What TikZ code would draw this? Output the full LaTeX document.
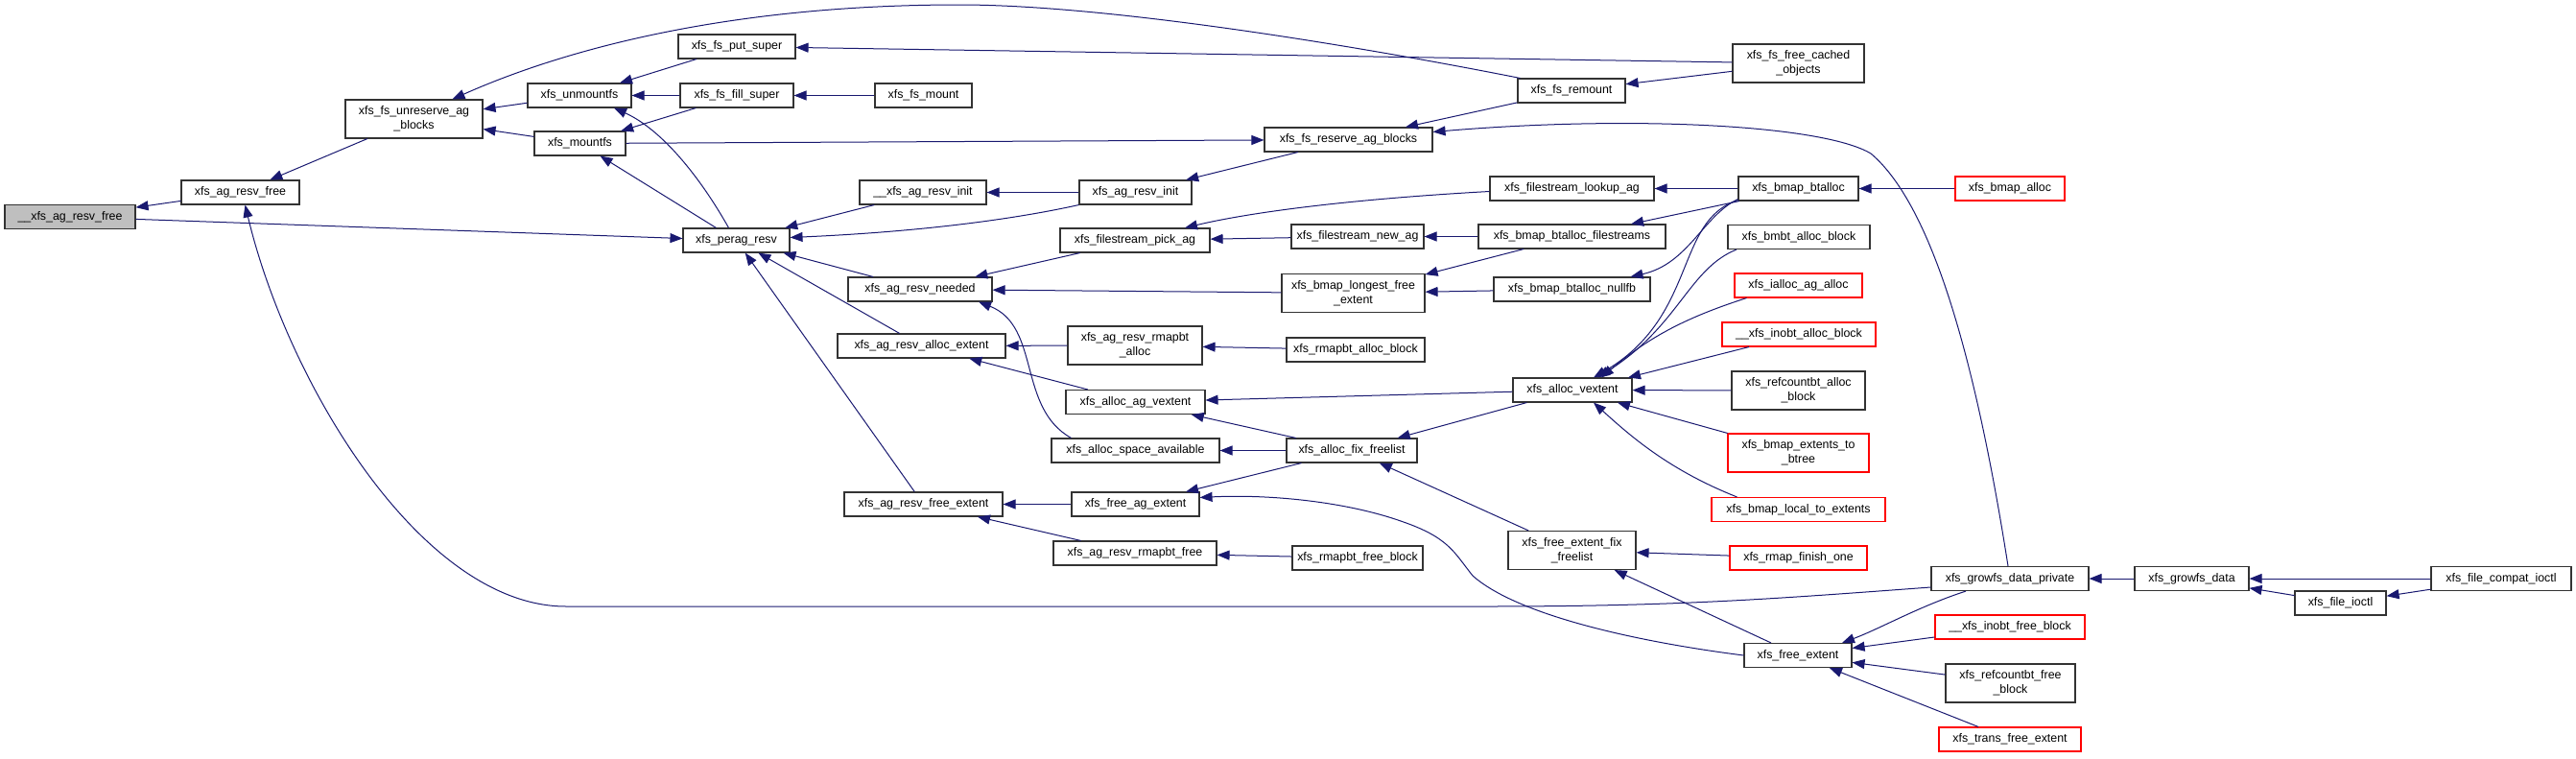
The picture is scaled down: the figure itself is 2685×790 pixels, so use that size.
\documentclass[tikz,border=0pt]{standalone}
\usepackage{fontspec}
\setmainfont{Liberation Sans}
\usetikzlibrary{arrows.meta}
\definecolor{edgeblue}{HTML}{191970}
\definecolor{rootgray}{HTML}{BFBFBF}

\begin{document}
\begin{tikzpicture}[
  x=1pt, y=-1pt,
  box/.style={rectangle, draw=black!80, line width=1.1pt, fill=white,
              minimum height=25pt, inner sep=0pt, align=center,
              font=\fontsize{12.4}{14.7}\selectfont},
  tallbox/.style={box, minimum height=40pt},
  redbox/.style={draw=red},
  arr/.style={-{Triangle[length=13pt,width=10pt]}, edgeblue, line width=1pt},
]
\useasboundingbox (0,0) rectangle (2685,790);
% Root and first callers
\node[box, fill=rootgray, minimum width=136] (root) at (73,226) {\_\_xfs\_ag\_resv\_free};
\node[box, minimum width=123] (agfree) at (250.5,200.5) {xfs\_ag\_resv\_free};
\node[tallbox, minimum width=143] (unres) at (431.5,124) {xfs\_fs\_unreserve\_ag\\\_blocks};
\node[box, minimum width=108] (unmnt) at (604,99.5) {xfs\_unmountfs};
\node[box, minimum width=95] (mnt) at (604.5,149.5) {xfs\_mountfs};
\node[box, minimum width=122] (putsuper) at (768,48.5) {xfs\_fs\_put\_super};
\node[box, minimum width=118] (fillsuper) at (768,99.5) {xfs\_fs\_fill\_super};
\node[box, minimum width=111] (perag) at (767.5,250.5) {xfs\_perag\_resv};
% Column around x=960
\node[box, minimum width=101] (fsmount) at (962.5,99.5) {xfs\_fs\_mount};
\node[box, minimum width=132] (initu) at (962,200.5) {\_\_xfs\_ag\_resv\_init};
\node[box, minimum width=150] (needed) at (959,301.5) {xfs\_ag\_resv\_needed};
\node[box, minimum width=175] (allocext) at (960.5,360.5) {xfs\_ag\_resv\_alloc\_extent};
\node[box, minimum width=165] (resvfree) at (962.5,525.5) {xfs\_ag\_resv\_free\_extent};
% Column around x=1183
\node[box, minimum width=117] (init) at (1183.5,200.5) {xfs\_ag\_resv\_init};
\node[box, minimum width=156] (pick) at (1183,250.5) {xfs\_filestream\_pick\_ag};
\node[tallbox, minimum width=140] (rmapalloc) at (1183,360) {xfs\_ag\_resv\_rmapbt\\\_alloc};
\node[box, minimum width=145] (agvext) at (1183.5,419) {xfs\_alloc\_ag\_vextent};
\node[box, minimum width=175] (spaceav) at (1183.5,469.5) {xfs\_alloc\_space\_available};
\node[box, minimum width=133] (freeag) at (1183.5,525.5) {xfs\_free\_ag\_extent};
\node[box, minimum width=170] (rmapfree) at (1183,576.5) {xfs\_ag\_resv\_rmapbt\_free};
% Column around x=1410
\node[box, minimum width=175] (reserve) at (1405.5,145.5) {xfs\_fs\_reserve\_ag\_blocks};
\node[box, minimum width=138] (newag) at (1415,246.5) {xfs\_filestream\_new\_ag};
\node[tallbox, minimum width=149] (longest) at (1410.5,305.5) {xfs\_bmap\_longest\_free\\\_extent};
\node[box, minimum width=144] (rmapallocblk) at (1413,364.5) {xfs\_rmapbt\_alloc\_block};
\node[box, minimum width=136] (fixfl) at (1409,469.5) {xfs\_alloc\_fix\_freelist};
\node[box, minimum width=136] (rmapfreeblk) at (1415,581.5) {xfs\_rmapbt\_free\_block};
% Column around x=1638
\node[box, minimum width=112] (remount) at (1638,94.5) {xfs\_fs\_remount};
\node[box, minimum width=171] (lookup) at (1638.5,196.5) {xfs\_filestream\_lookup\_ag};
\node[box, minimum width=195] (filestr) at (1638.5,246.5) {xfs\_bmap\_btalloc\_filestreams};
\node[box, minimum width=163] (nullfb) at (1638.5,301.5) {xfs\_bmap\_btalloc\_nullfb};
\node[box, minimum width=124] (vext) at (1639,406.5) {xfs\_alloc\_vextent};
\node[tallbox, minimum width=133] (fffl) at (1638.5,573.5) {xfs\_free\_extent\_fix\\\_freelist};
% Column around x=1875
\node[tallbox, minimum width=137] (cached) at (1874.5,66) {xfs\_fs\_free\_cached\\\_objects};
\node[box, minimum width=125] (btalloc) at (1874.5,196.5) {xfs\_bmap\_btalloc};
\node[box, minimum width=148] (bmbt) at (1875,247) {xfs\_bmbt\_alloc\_block};
\node[box, redbox, minimum width=133] (ialloc) at (1874.5,297.5) {xfs\_ialloc\_ag\_alloc};
\node[box, redbox, minimum width=160] (inobta) at (1875,348.5) {\_\_xfs\_inobt\_alloc\_block};
\node[tallbox, minimum width=139] (refca) at (1874.5,407) {xfs\_refcountbt\_alloc\\\_block};
\node[tallbox, redbox, minimum width=147] (ext2bt) at (1874.5,472) {xfs\_bmap\_extents\_to\\\_btree};
\node[box, redbox, minimum width=181] (local) at (1874.5,531) {xfs\_bmap\_local\_to\_extents};
\node[box, redbox, minimum width=143] (rmapfin) at (1874.5,581.5) {xfs\_rmap\_finish\_one};
\node[box, minimum width=112] (freeext) at (1874,683) {xfs\_free\_extent};
% Column around x=2095 and the right end
\node[box, redbox, minimum width=114] (bmapalloc) at (2095,196.5) {xfs\_bmap\_alloc};
\node[box, minimum width=164] (gdp) at (2095,603) {xfs\_growfs\_data\_private};
\node[box, redbox, minimum width=156] (inobtf) at (2095,653.5) {\_\_xfs\_inobt\_free\_block};
\node[tallbox, minimum width=135] (refcf) at (2095.5,712) {xfs\_refcountbt\_free\\\_block};
\node[box, redbox, minimum width=148] (transfree) at (2095,770.5) {xfs\_trans\_free\_extent};
\node[box, minimum width=119] (growfs) at (2284.5,603) {xfs\_growfs\_data};
\node[box, minimum width=95] (fileioctl) at (2439.5,628.5) {xfs\_file\_ioctl};
\node[box, minimum width=146] (compat) at (2607,603) {xfs\_file\_compat\_ioctl};
% Calls into the left part
\draw[arr] (agfree) -- (root);
\draw[arr] (root) -- (perag);
\draw[arr] (unres) -- (agfree);
\draw[arr] ([yshift=-9]gdp.west) .. controls (1850,624) and (1750,632) .. (1550,632)
  -- (590,632) .. controls (440,632) and (300,400) .. ([xshift=5]agfree.south);
\draw[arr] (unmnt) -- (unres);
\draw[arr] (mnt) -- (unres);
\draw[arr] ([xshift=3]remount.north west) .. controls (1400,45) and (1150,5) .. (1000,5)
  .. controls (750,5) and (580,55) .. ([xshift=40]unres.north);
\draw[arr] (putsuper) -- (unmnt);
\draw[arr] (fillsuper) -- (unmnt);
\draw[arr] (fillsuper) -- (mnt);
\draw[arr] ([xshift=-8]perag.north) .. controls (730,185) and (690,135) .. ([xshift=36]unmnt.south);
\draw[arr] (perag) -- (mnt);
\draw[arr] (cached) -- (putsuper);
\draw[arr] (fsmount) -- (fillsuper);
\draw[arr] (mnt) -- (reserve);
\draw[arr] (remount) -- (reserve);
\draw[arr] (cached) -- (remount);
\draw[arr] (reserve) -- (init);
\draw[arr] ([xshift=-2]gdp.north) .. controls (2060,380) and (2015,215) .. (1950,160)
  .. controls (1900,130) and (1700,120) .. ([yshift=8]reserve.east);
% Calls into xfs_perag_resv
\draw[arr] (initu) -- (perag);
\draw[arr] (init.south west) .. controls (1050,230) and (950,242) .. ([yshift=3]perag.east);
\draw[arr] (init) -- (initu);
\draw[arr] (needed) -- (perag);
\draw[arr] (allocext) -- (perag);
\draw[arr] (resvfree) -- (perag);
% Middle columns
\draw[arr] (pick) -- (needed);
\draw[arr] (longest) -- (needed);
\draw[arr] ([xshift=-67]spaceav.north) .. controls (1060,425) and (1085,340) .. ([xshift=61]needed.south);
\draw[arr] (rmapalloc) -- (allocext);
\draw[arr] (agvext) -- (allocext);
\draw[arr] (rmapallocblk) -- (rmapalloc);
\draw[arr] ([yshift=-3]lookup.west) .. controls (1400,208) and (1300,222) .. ([xshift=52]pick.north);
\draw[arr] (newag) -- (pick);
\draw[arr] (filestr) -- (newag);
\draw[arr] (filestr) -- (longest);
\draw[arr] (nullfb) -- (longest);
% xfs_bmap_btalloc and xfs_alloc_vextent
\draw[arr] (btalloc) -- (lookup);
\draw[arr] (btalloc) -- (filestr);
\draw[arr] ([yshift=2]btalloc.south west) .. controls (1775,225) and (1760,275) .. ([xshift=61]nullfb.north);
\draw[arr] ([yshift=1]btalloc.south west) .. controls (1745,230) and (1770,330) .. ([xshift=22]vext.north);
\draw[arr] ([xshift=-65]bmbt.south) .. controls (1760,280) and (1750,340) .. ([xshift=26]vext.north);
\draw[arr] ([xshift=-54]ialloc.south) .. controls (1760,330) and (1720,350) .. ([xshift=30]vext.north);
\draw[arr] ([xshift=-52]inobta.south) -- ([xshift=58]vext.north);
\draw[arr] (refca) -- (vext);
\draw[arr] (ext2bt) -- (vext);
\draw[arr] ([xshift=-64]local.north) .. controls (1740,490) and (1700,455) .. ([xshift=22]vext.south);
\draw[arr] (bmapalloc) -- (btalloc);
\draw[arr] (vext) -- (agvext);
\draw[arr] (vext) -- (fixfl);
% Free list and freeing
\draw[arr] (fixfl) -- (agvext);
\draw[arr] (fixfl) -- (spaceav);
\draw[arr] (fixfl) -- (freeag);
\draw[arr] (fffl) -- (fixfl);
\draw[arr] (freeext.west) .. controls (1700,668) and (1580,640) .. (1535,600)
  .. controls (1515,575) and (1510,560) .. (1460,543)
  .. controls (1400,522) and (1320,515) .. ([yshift=7]freeag.east);
\draw[arr] (freeag) -- (resvfree);
\draw[arr] (rmapfree) -- (resvfree);
\draw[arr] (rmapfreeblk) -- (rmapfree);
\draw[arr] (rmapfin) -- (fffl);
\draw[arr] (freeext) -- (fffl);
\draw[arr] ([xshift=-46]gdp.south) .. controls (2000,632) and (1960,655) .. ([xshift=46]freeext.north);
\draw[arr] (inobtf) -- (freeext);
\draw[arr] (refcf) -- (freeext);
\draw[arr] (transfree) -- (freeext);
% Growfs callers
\draw[arr] (growfs) -- (gdp);
\draw[arr] (compat) -- (growfs);
\draw[arr] (fileioctl) -- (growfs);
\draw[arr] (compat) -- (fileioctl);
\end{tikzpicture}
\end{document}
